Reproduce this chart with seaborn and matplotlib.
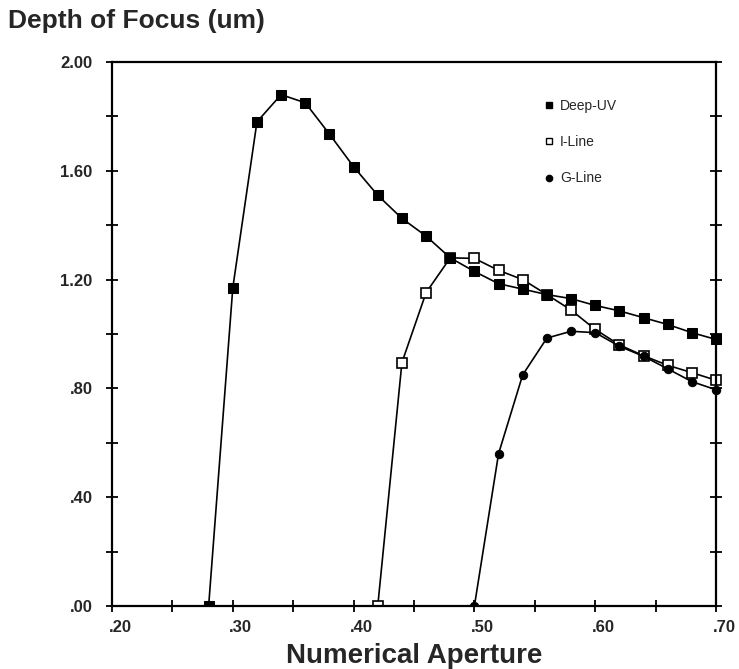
"""
plot.py
Depth of Focus vs Numerical Aperture (Deep-UV, I-Line, G-Line)
"""

import matplotlib
matplotlib.use("Agg")
import matplotlib.pyplot as plt
from matplotlib.lines import Line2D
from matplotlib.ticker import MultipleLocator, FixedLocator
from matplotlib.transforms import ScaledTranslation, Bbox, TransformedBbox
import pandas as pd
import seaborn as sns

# DATOS

na_deep_uv = [0.28, 0.30, 0.32, 0.34, 0.36, 0.38, 0.40, 0.42, 0.44, 0.46, 0.48,
              0.50, 0.52, 0.54, 0.56, 0.58, 0.60, 0.62, 0.64, 0.66, 0.68, 0.70]
dof_deep_uv = [0.00, 1.17, 1.78, 1.88, 1.85, 1.735, 1.615, 1.51, 1.425, 1.36, 1.28,
               1.23, 1.185, 1.165, 1.145, 1.13, 1.105, 1.085, 1.06, 1.035, 1.005, 0.98]

na_i_line = [0.42, 0.44, 0.46, 0.48, 0.50, 0.52, 0.54, 0.56, 0.58, 0.60, 0.62,
             0.64, 0.66, 0.68, 0.70]
dof_i_line = [0.00, 0.895, 1.152, 1.28, 1.278, 1.234, 1.20, 1.145, 1.088, 1.017,
              0.96, 0.92, 0.885, 0.858, 0.83]

na_g_line = [0.50, 0.52, 0.54, 0.56, 0.58, 0.60, 0.62, 0.64, 0.66, 0.68, 0.70]
dof_g_line = [0.00, 0.56, 0.85, 0.985, 1.01, 1.005, 0.955, 0.918, 0.872, 0.825, 0.795]

series_names = ["Deep-UV", "I-Line", "G-Line"]
x_tick_values = [0.20, 0.30, 0.40, 0.50, 0.60, 0.70]
x_tick_labels = [".20", ".30", ".40", ".50", ".60", ".70"]
y_tick_values = [0.00, 0.40, 0.80, 1.20, 1.60, 2.00]
y_tick_labels = [".00", ".40", ".80", "1.20", "1.60", "2.00"]

# ESTILO

sns.set_style("ticks")
plt.rcParams["font.family"] = ["Liberation Sans", "DejaVu Sans"]

marker_styles = {
    "Deep-UV": dict(marker="s", markersize=6.5, markerfacecolor="black",
                    markeredgecolor="black"),
    "I-Line": dict(marker="s", markersize=6.5, markerfacecolor="white",
                   markeredgecolor="black", markeredgewidth=1.2),
    "G-Line": dict(marker="o", markersize=6, markerfacecolor="black",
                   markeredgecolor="black"),
}
orden_z = {"I-Line": 3, "G-Line": 4, "Deep-UV": 5}


def main():
    df = pd.concat([
        pd.DataFrame({"na": na_deep_uv, "dof": dof_deep_uv, "serie": "Deep-UV"}),
        pd.DataFrame({"na": na_i_line, "dof": dof_i_line, "serie": "I-Line"}),
        pd.DataFrame({"na": na_g_line, "dof": dof_g_line, "serie": "G-Line"}),
    ], ignore_index=True)

    fig = plt.figure(figsize=(7.39, 6.69), dpi=100)
    ax = fig.add_axes([112 / 739, 63 / 669, 604 / 739, 544 / 669])

    for name in series_names:
        sub = df[df["serie"] == name]
        sns.lineplot(data=sub, x="na", y="dof", color="black", linewidth=1.2,
                     sort=False, ax=ax, zorder=orden_z[name],
                     **marker_styles[name])

    # recorte solo por abajo (los marcadores del borde derecho se ven completos)
    clip = TransformedBbox(Bbox([[0.0, 0.0], [1.05, 1.05]]), ax.transAxes)
    for line in ax.get_lines():
        line.set_clip_box(clip)

    ax.set_xlim(0.20, 0.70)
    ax.set_ylim(0.0, 2.0)

    # Ejes y ticks
    ax.xaxis.set_major_locator(FixedLocator(x_tick_values))
    ax.set_xticklabels(x_tick_labels)
    ax.xaxis.set_minor_locator(MultipleLocator(0.05))
    ax.yaxis.set_major_locator(FixedLocator(y_tick_values))
    ax.set_yticklabels(y_tick_labels)
    ax.yaxis.set_minor_locator(MultipleLocator(0.2))

    for side in ["top", "right", "bottom", "left"]:
        ax.spines[side].set_visible(True)
        ax.spines[side].set_linewidth(1.6)
        ax.spines[side].set_color("black")
        ax.spines[side].set_zorder(6)

    ax.tick_params(axis="both", which="both", direction="inout", color="black",
                   width=1.3, length=8)
    ax.tick_params(axis="both", which="major", labelsize=12)
    ax.tick_params(axis="x", which="both", top=False, pad=6)
    ax.tick_params(axis="y", which="both", right=True, pad=10)

    for lbl in ax.get_xticklabels() + ax.get_yticklabels():
        lbl.set_fontweight("bold")
    offset = ScaledTranslation(8 / 100, 0, fig.dpi_scale_trans)
    for lbl in ax.get_xticklabels():
        lbl.set_transform(lbl.get_transform() + offset)

    ax.set_xlabel("Numerical Aperture", fontsize=20, fontweight="bold", labelpad=6)
    ax.set_ylabel("")
    fig.text(8 / 739, 1 - 21 / 669, "Depth of Focus (um)", fontsize=19,
             fontweight="bold", va="center", ha="left")

    # Leyenda
    handles = [
        Line2D([], [], linestyle="none", marker="s", markersize=4.5,
               markerfacecolor="black", markeredgecolor="black"),
        Line2D([], [], linestyle="none", marker="s", markersize=4.5,
               markerfacecolor="white", markeredgecolor="black", markeredgewidth=1),
        Line2D([], [], linestyle="none", marker="o", markersize=4.5,
               markerfacecolor="black", markeredgecolor="black"),
    ]
    ax.legend(handles=handles, labels=series_names, loc="upper left",
              bbox_to_anchor=(0.696, 0.955), frameon=False, fontsize=10,
              handlelength=0.6, handletextpad=0.5, labelspacing=1.6)

    plt.savefig("out.png", dpi=100)


if __name__ == "__main__":
    main()
